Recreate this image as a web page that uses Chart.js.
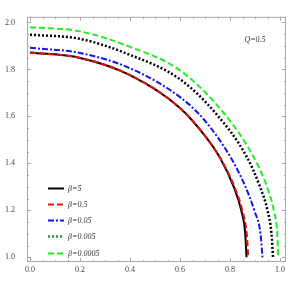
<!DOCTYPE html>
<html>
<head>
<meta charset="utf-8">
<script src="https://cdn.jsdelivr.net/npm/chart.js@4.4.1/dist/chart.umd.min.js"></script>
<style>
  html, body { margin: 0; padding: 0; background: #fff; }
  #wrap { width: 289px; height: 287px; }
</style>
</head>
<body>
<div id="wrap"><canvas id="chart-q05"></canvas></div>
<script>
// curves, [x, y]
const betaLabels = ["\u03b2=5", "\u03b2=0.5", "\u03b2=0.05", "\u03b2=0.005", "\u03b2=0.0005"];
const curveB5 = [[0, 1.872], [0.2, 1.849], [0.4, 1.776], [0.6, 1.636], [0.7, 1.517], [0.76, 1.424], [0.815, 1.3], [0.845, 1.2], [0.861, 1.1], [0.866, 1.0]];
const curveB05 = [[0, 1.872], [0.2, 1.849], [0.4, 1.776], [0.6, 1.636], [0.7, 1.517], [0.76, 1.424], [0.818, 1.3], [0.849, 1.2], [0.867, 1.1], [0.873, 1.0]];
const curveB005 = [[0, 1.892], [0.2, 1.87], [0.4, 1.805], [0.6, 1.682], [0.693, 1.59], [0.8, 1.43], [0.862, 1.3], [0.897, 1.2], [0.922, 1.1], [0.93, 1.0]];
const curveB0005 = [[0, 1.948], [0.2, 1.93], [0.4, 1.862], [0.6, 1.758], [0.747, 1.608], [0.867, 1.428], [0.92, 1.3], [0.95, 1.2], [0.966, 1.1], [0.972, 1.0]];
const curveB00005 = [[0, 1.98], [0.2, 1.962], [0.4, 1.896], [0.6, 1.796], [0.78, 1.608], [0.894, 1.428], [0.948, 1.3], [0.975, 1.2], [0.989, 1.1], [0.993, 1.0]];
const xTicks = [0, 0.2, 0.4, 0.6, 0.8, 1.0];
const yTicks = [1.0, 1.2, 1.4, 1.6, 1.8, 2.0];

const toPts = (arr) => arr.map((p) => ({ x: p[0], y: p[1] }));

// frame with inward ticks, mathematica style
const framePlugin = {
  id: "frame",
  afterDraw(chart) {
    const { ctx, chartArea: a, scales } = chart;
    const xs = scales.x, ys = scales.y;
    ctx.save();
    ctx.strokeStyle = "#a8a8a8";
    ctx.lineWidth = 1;
    ctx.strokeRect(a.left + 0.5, a.top + 0.5, a.right - a.left - 1, a.bottom - a.top - 1);
    ctx.beginPath();
    for (let i = 0; i <= 20; i++) {
      const v = i * 0.05;
      const major = i % 4 === 0;
      const len = major ? 4 : 2;
      const px = Math.round(xs.getPixelForValue(v)) + 0.5;
      ctx.moveTo(px, a.bottom); ctx.lineTo(px, a.bottom - len);
      ctx.moveTo(px, a.top); ctx.lineTo(px, a.top + len);
      const py = Math.round(ys.getPixelForValue(1 + v)) + 0.5;
      ctx.moveTo(a.left, py); ctx.lineTo(a.left + len, py);
      ctx.moveTo(a.right, py); ctx.lineTo(a.right - len, py);
    }
    ctx.stroke();

    // Q label
    ctx.fillStyle = "#333";
    ctx.font = "italic 8px 'Liberation Serif'";
    ctx.textAlign = "center";
    ctx.textBaseline = "middle";
    ctx.fillText("Q=0.5", a.left + 228, a.top + 23);

    // legend inside the plot
    const lx = a.left + 21, ly = a.top + 171, step = 16.2;
    chart.data.datasets.forEach((ds, i) => {
      const y = Math.round(ly + i * step) + 0.5;
      ctx.strokeStyle = ds.legendColor || ds.borderColor;
      ctx.lineWidth = ds.borderWidth;
      ctx.setLineDash(ds.borderDash || []);
      ctx.beginPath();
      ctx.moveTo(lx, y); ctx.lineTo(lx + 16, y);
      ctx.stroke();
      ctx.setLineDash([]);
      ctx.fillStyle = "#333";
      ctx.textAlign = "left";
      ctx.fillText(ds.label, lx + 20, y);
    });
    ctx.restore();
  },
};

const tickFont = { family: "'Liberation Serif'", size: 8 };

new Chart(document.getElementById("chart-q05"), {
  type: "scatter",
  data: {
    datasets: [
      { label: betaLabels[0], data: toPts(curveB5), borderColor: "#000", borderWidth: 2, order: 2 },
      { label: betaLabels[1], data: toPts(curveB05), borderColor: "#e8120c", borderWidth: 2, borderDash: [6, 3], order: 1 },
      { label: betaLabels[2], data: toPts(curveB005), borderColor: "#1414ee", borderWidth: 2, borderDash: [6, 2, 2, 2], order: 3 },
      { label: betaLabels[3], data: toPts(curveB0005), borderColor: "#000", legendColor: "#2f8f3a", borderWidth: 2.5, borderDash: [2, 2], order: 4 },
      { label: betaLabels[4], data: toPts(curveB00005), borderColor: "#22ee22", borderWidth: 2, borderDash: [6, 3], order: 5 },
    ],
  },
  options: {
    responsive: true,
    maintainAspectRatio: false,
    animation: false,
    showLine: true,
    elements: {
      point: { radius: 0 },
      line: { cubicInterpolationMode: "monotone", fill: false },
    },
    layout: { padding: { top: 1, right: 3, left: 0, bottom: 0 } },
    plugins: {
      legend: { display: false },
      tooltip: { enabled: false },
    },
    scales: {
      x: {
        type: "linear",
        min: -0.012,
        max: 1.024,
        grid: { display: false, drawTicks: false },
        border: { display: false },
        afterBuildTicks: (s) => { s.ticks = xTicks.map((v) => ({ value: v })); },
        afterFit: (s) => { s.height = 25; },
        ticks: { font: tickFont, color: "#444", padding: 3, maxRotation: 0, callback: (v) => v.toFixed(1) },
      },
      y: {
        type: "linear",
        min: 0.98,
        max: 2.024,
        grid: { display: false, drawTicks: false },
        border: { display: false },
        afterBuildTicks: (s) => { s.ticks = yTicks.map((v) => ({ value: v })); },
        afterFit: (s) => { s.width = 27; },
        ticks: { font: tickFont, color: "#444", padding: 12, callback: (v) => v.toFixed(1) },
      },
    },
  },
  plugins: [framePlugin],
});
</script>
</body>
</html>
